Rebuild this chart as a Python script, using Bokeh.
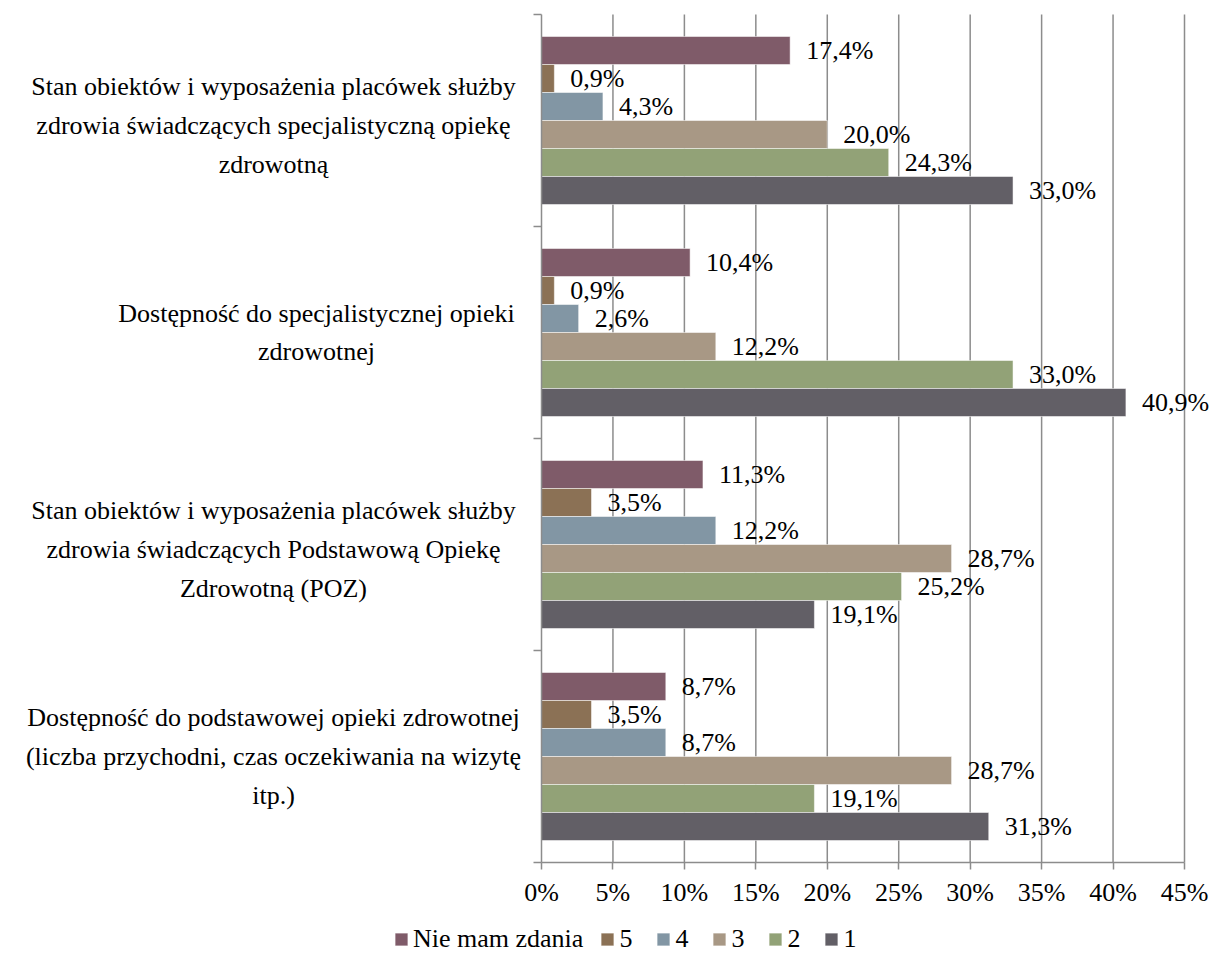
from bokeh.plotting import figure
from bokeh.models import (ColumnDataSource, Range1d, FixedTicker, PrintfTickFormatter,
                          Label, LabelSet, Legend, LegendItem)
from bokeh.embed import file_html
from bokeh.resources import INLINE

# ---- data ----
categories = [
    "Stan obiektów i wyposażenia placówek służby\nzdrowia świadczących specjalistyczną opiekę\nzdrowotną",
    "Dostępność do specjalistycznej opieki\nzdrowotnej",
    "Stan obiektów i wyposażenia placówek służby\nzdrowia świadczących Podstawową Opiekę\nZdrowotną (POZ)",
    "Dostępność do podstawowej opieki zdrowotnej\n(liczba przychodni, czas oczekiwania na wizytę\nitp.)",
]
series_names = ["Nie mam zdania", "5", "4", "3", "2", "1"]
nie_mam_zdania = [17.4, 10.4, 11.3, 8.7]
s5 = [0.9, 0.9, 3.5, 3.5]
s4 = [4.3, 2.6, 12.2, 8.7]
s3 = [20.0, 12.2, 28.7, 28.7]
s2 = [24.3, 33.0, 25.2, 19.1]
s1 = [33.0, 40.9, 19.1, 31.3]
series_values = [nie_mam_zdania, s5, s4, s3, s2, s1]
x_ticks = [0, 5, 10, 15, 20, 25, 30, 35, 40, 45]

colors = ["#7f5b69", "#8b7155", "#8296a4", "#a89885", "#92a277", "#625f66"]
FONT = "Liberation Serif"
FS = "26px"
GRID = "#8c8c8c"

# ---- layout (pixels) ----
W, H = 1212, 956
PL, PR, PT, PB = 541, 1184, 14, 862   # plot-area edges in screen pixels
XMAX = 45.0
n_cat = len(categories)
px_per_x = (PR - PL) / XMAX
px_per_y = (PB - PT) / n_cat
bar_h = 28 / px_per_y

p = figure(width=W, height=H, output_backend="svg", toolbar_location=None,
           x_range=Range1d(-PL / px_per_x, (W - PL) / px_per_x),
           y_range=Range1d(-(H - PB) / px_per_y, n_cat + PT / px_per_y),
           min_border_left=0, min_border_right=0, min_border_top=0, min_border_bottom=0)
p.outline_line_color = None
p.background_fill_color = "white"
p.border_fill_color = "white"

# vertical grid lines inside the plot area only
p.segment(x0=x_ticks[1:], x1=x_ticks[1:], y0=0, y1=n_cat,
          line_color=GRID, line_width=1.5, level="underlay")

# category centres: first category at top
cat_y = [n_cat - 0.5 - i for i in range(n_cat)]

renderers = []
for k, (name, vals) in enumerate(zip(series_names, series_values)):
    ys = [cy + (2.5 - k) * bar_h for cy in cat_y]
    src = ColumnDataSource(dict(
        y=ys, v=vals,
        lab=[("%.1f" % v).replace(".", ",") + "%" for v in vals]))
    r = p.hbar(y="y", right="v", left=0, height=bar_h, source=src,
               fill_color=colors[k], line_color="white", line_alpha=0.5, line_width=1)
    renderers.append(r)
    ls = LabelSet(x="v", y="y", text="lab", source=src, x_offset=16, y_offset=0,
                  text_baseline="middle", text_align="left",
                  text_font=FONT, text_font_size=FS, text_color="black")
    p.add_layout(ls)

# axes (placed at data 0)
xa = p.xaxis[0]
xa.fixed_location = 0
xa.bounds = (0, XMAX)
xa.ticker = FixedTicker(ticks=x_ticks)
xa.formatter = PrintfTickFormatter(format="%d%%")
xa.major_label_text_font = FONT
xa.major_label_text_font_size = FS
xa.major_label_text_color = "black"
xa.major_label_standoff = 8
xa.axis_line_color = GRID
xa.axis_line_width = 1.5
xa.major_tick_line_color = GRID
xa.major_tick_line_width = 1.5
xa.major_tick_out = 7
xa.major_tick_in = 0
xa.minor_tick_line_color = None

ya = p.yaxis[0]
ya.fixed_location = 0
ya.bounds = (0, n_cat)
ya.ticker = FixedTicker(ticks=list(range(n_cat + 1)))
ya.major_label_overrides = {i: "" for i in range(n_cat + 1)}
ya.axis_line_color = GRID
ya.axis_line_width = 1.5
ya.major_tick_line_color = GRID
ya.major_tick_line_width = 1.5
ya.major_tick_out = 8
ya.major_tick_in = 0
ya.minor_tick_line_color = None

p.xgrid.grid_line_color = None
p.ygrid.grid_line_color = None

# category labels (block centre in pixels left of the axis)
label_xoff = [-268, -225, -268, -268]
label_yoff = [-5, 0, -5, 0]
for cat, cy, xo, yo in zip(categories, cat_y, label_xoff, label_yoff):
    p.add_layout(Label(x=0, y=cy, x_offset=xo, y_offset=yo, text=cat,
                       text_align="center", text_baseline="middle",
                       text_font=FONT, text_font_size=FS, text_color="black",
                       text_line_height=1.34))

legend = Legend(items=[LegendItem(label=n, renderers=[r]) for n, r in zip(series_names, renderers)],
                orientation="horizontal", location=(393, 2),
                glyph_width=16, glyph_height=16, label_standoff=4, spacing=16,
                padding=0, margin=0, border_line_color=None, background_fill_alpha=0,
                label_text_font=FONT, label_text_font_size=FS, label_text_color="black")
p.add_layout(legend, "center")

open("out.html", "w").write(file_html(p, INLINE))
